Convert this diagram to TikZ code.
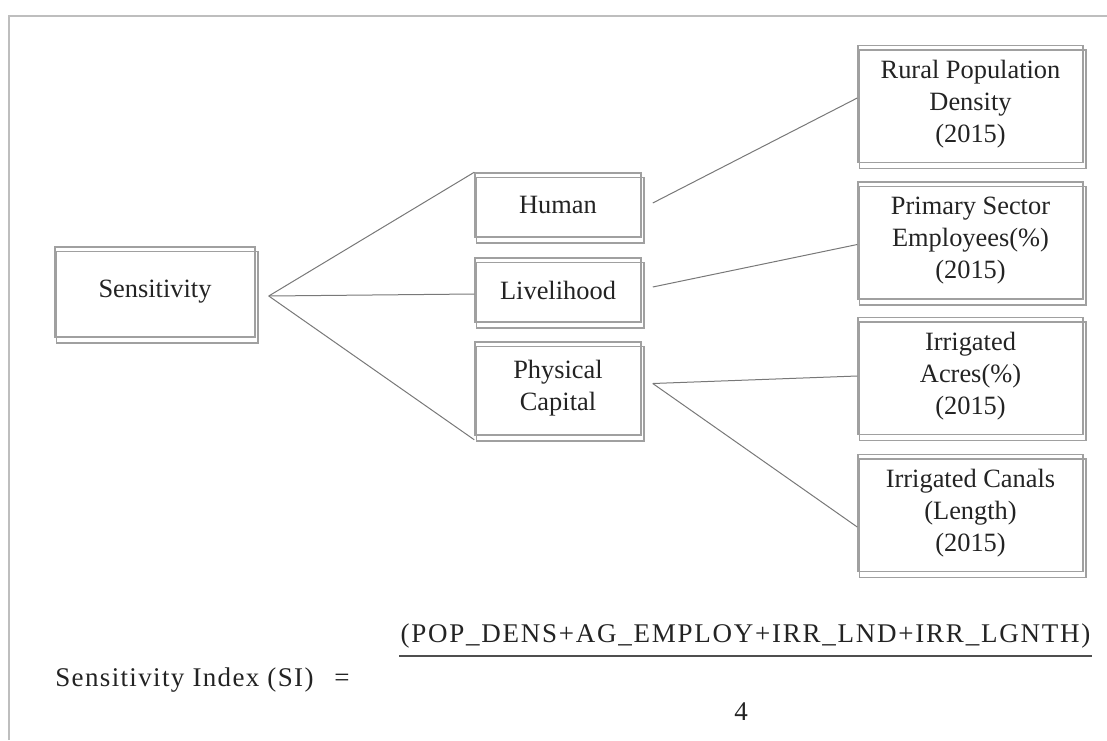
\documentclass[tikz,border=0pt]{standalone}
\usepackage{fontspec}
\setmainfont{Liberation Serif}
\newfontfamily\eqfont[LetterSpace=5]{Liberation Serif}
\newfontfamily\numfont[LetterSpace=6.5]{Liberation Serif}
\usepackage{tikz}
\usetikzlibrary{positioning, calc}
\usepackage{xcolor}
\definecolor{boxgray}{RGB}{160, 160, 160}
\definecolor{linkgray}{RGB}{120, 120, 120}
\definecolor{framegray}{RGB}{190, 190, 190}
\definecolor{textdark}{RGB}{35, 35, 35}
\tikzset{
  catbox/.style   = {rectangle, draw=boxgray, line width=0.75pt, align=center, inner sep=2pt, text=textdark, font=\fontsize{13.2}{16}\selectfont},
  rootbox/.style  = {catbox, minimum width=100pt, minimum height=45pt},
  midbox/.style   = {catbox, minimum width=83pt},
  leafbox/.style  = {catbox, minimum width=112.5pt, minimum height=58.5pt},
  boxshade/.style = {draw=boxgray, line width=0.75pt},
  link/.style     = {draw=linkgray, line width=0.5pt},
  eqtext/.style   = {text=textdark, inner sep=0pt, font=\eqfont\fontsize{13.5}{16}\selectfont},
  fracbar/.style  = {draw=textdark!80, line width=0.6pt},
  pageframe/.style= {draw=framegray, line width=0.7pt},
}

\begin{document}
\begin{tikzpicture}[x=0.5pt, y=-0.5pt]
  % page size of the reference, in pixels
  \useasboundingbox (0,0) rectangle (1107,740);
  \draw[pageframe] (9,740) -- (9,16) -- (1107,16);

  % boxes
  \node[rootbox] (sens) at (155,292) {Sensitivity};

  \node[midbox, minimum height=32pt]   (human)    at (558,205)   {Human};
  \node[midbox, minimum height=32pt]   (liveli)   at (558,290)   {Livelihood};
  \node[midbox, minimum height=46.5pt] (physcap)  at (558,388.5) {Physical\\Capital};

  \node[leafbox] (popdens) at (970.5,104)   {Rural Population\\Density\\(2015)};
  \node[leafbox] (agemp)   at (970.5,240.5) {Primary Sector\\Employees(\%)\\(2015)};
  \node[leafbox] (irrlnd)  at (970.5,376)   {Irrigated\\Acres(\%)\\(2015)};
  \node[leafbox] (irrlen)  at (970.5,513)   {Irrigated Canals\\(Length)\\(2015)};

  % offset second outline of every box
  \foreach \b in {sens, human, liveli, physcap, popdens, agemp, irrlnd, irrlen}
    \draw[boxshade] ([xshift=1pt, yshift=-2.5pt]\b.north west) rectangle ([xshift=1pt, yshift=-2.5pt]\b.south east);

  % connectors
  \coordinate (root) at ([xshift=6.5pt, yshift=-2pt]sens.east);
  \draw[link] (root) -- (human.north west);
  \draw[link] (root) -- ([yshift=-2pt]liveli.west);
  \draw[link] (root) -- ([yshift=-2pt]physcap.south west);

  \draw[link] ([xshift=5.5pt, yshift=1pt]human.east) -- ([yshift=3pt]popdens.west);
  \draw[link] ([xshift=5.5pt, yshift=1.5pt]liveli.east) -- ([yshift=-2pt]agemp.west);
  \draw[link] ([xshift=5.5pt, yshift=2.5pt]physcap.east) -- (irrlnd.west);
  \draw[link] ([xshift=5.5pt, yshift=2.5pt]physcap.east) -- ([yshift=-7pt]irrlen.west);

  % index formula
  \node[eqtext, anchor=west] (silabel) at (55,680) {Sensitivity Index (SI)};
  \node[eqtext] (equals) at (342,680) {=};
  \node[eqtext, font=\numfont\fontsize{13.5}{16}\selectfont] (numer) at (745.5,636) {(POP\_DENS+AG\_EMPLOY+IRR\_LND+IRR\_LGNTH)};
  \coordinate (barl) at (399,656);
  \coordinate (barr) at (1092,656);
  \draw[fracbar] (barl) -- (barr);
  \node[eqtext] (denom) at (741,712) {4};
\end{tikzpicture}
\end{document}
